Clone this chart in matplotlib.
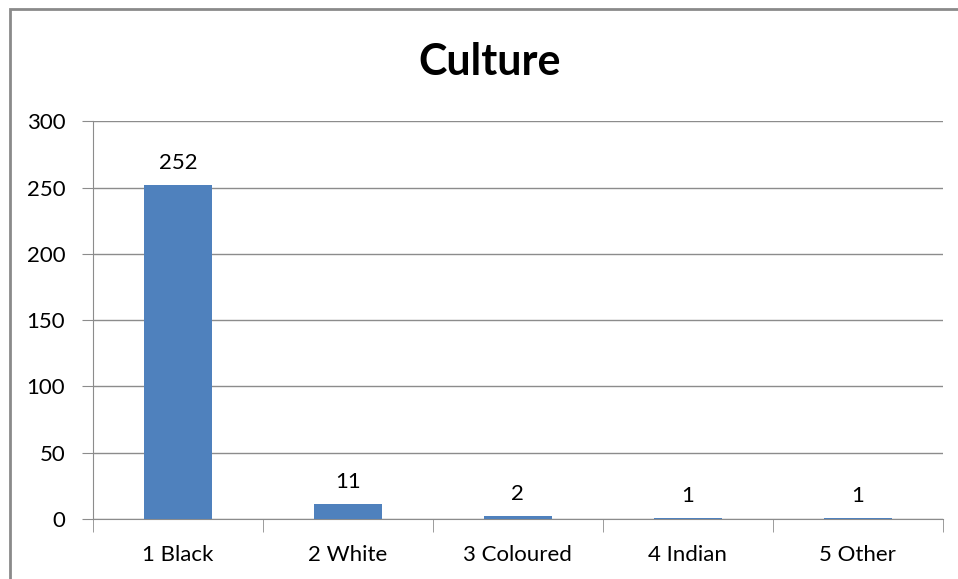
import matplotlib
matplotlib.use("Agg")
import matplotlib.pyplot as plt
from matplotlib.patches import Rectangle

# Data
categories = ["1 Black", "2 White", "3 Coloured", "4 Indian", "5 Other"]
counts = [252, 11, 2, 1, 1]

plt.rcParams['font.family'] = ['Lato', 'DejaVu Sans']

fig = plt.figure(figsize=(9.58, 5.79), dpi=100)
ax = fig.add_axes([0.0971, 0.1036, 0.887, 0.687])

# outer chart border (runs off the right and bottom edges)
fig.patches.append(Rectangle((10 / 958, -0.05), 1.1, 1 - 9 / 579 + 0.05,
                             transform=fig.transFigure, fill=False,
                             edgecolor='#8a8a8a', linewidth=2, zorder=0))

x = list(range(len(categories)))
bars = ax.bar(x, counts, width=0.4, color='#4F81BD', zorder=3)

for xi, v in zip(x, counts):
    ax.text(xi, v + 9, str(v), ha='center', va='bottom', fontsize=16)

ax.set_xlim(-0.5, len(categories) - 0.5)
ax.set_ylim(0, 300)
ax.set_yticks(range(0, 301, 50))
ax.yaxis.grid(True, color='#8c8c8c', linewidth=1)
ax.set_axisbelow(True)

ax.set_xticks(x)
ax.set_xticklabels(categories, fontsize=16)
ax.tick_params(axis='x', length=0, pad=19)
ax.set_xticks([i - 0.5 for i in range(len(categories) + 1)], minor=True)
ax.tick_params(axis='x', which='minor', length=9, color='#8c8c8c')
ax.tick_params(axis='y', length=8, color='#8c8c8c', labelsize=16, pad=12)

for s in ['top', 'right']:
    ax.spines[s].set_visible(False)
ax.spines['left'].set_color('#8c8c8c')
ax.spines['bottom'].set_color('#8c8c8c')

fig.text(490 / 958, 1 - 62 / 579, "Culture", ha='center', va='center',
         fontsize=31, fontweight='bold')

fig.savefig("out.png", dpi=100)
